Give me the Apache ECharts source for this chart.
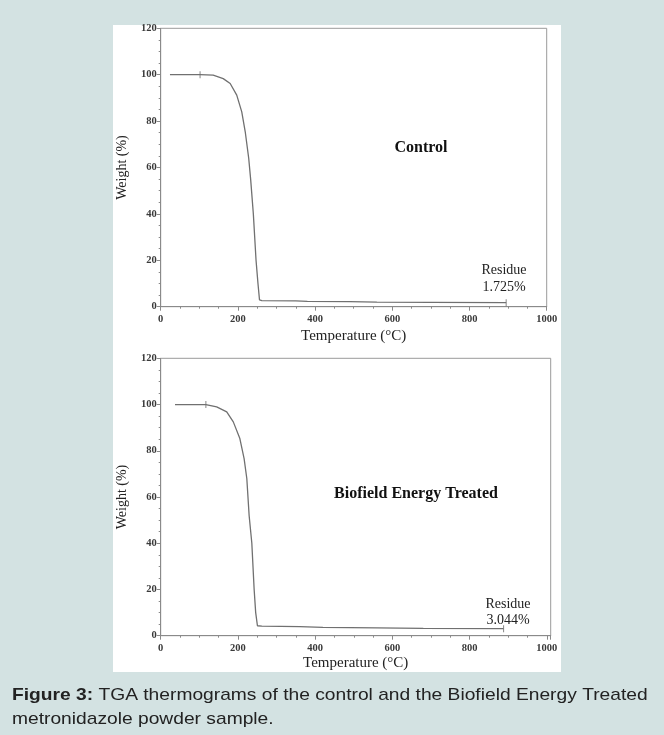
<!DOCTYPE html>
<html>
<head>
<meta charset="utf-8">
<script src="https://cdn.jsdelivr.net/npm/echarts@6/dist/echarts.min.js"></script>
<style>
html,body{margin:0;padding:0;background:#d3e2e2;}
#c{width:664px;height:735px;}
</style>
</head>
<body>
<div id="c"></div>
<script>
// Control sample
const tempControl = [24, 102, 136, 162, 180, 197, 210, 219, 228, 233, 240, 247, 252, 256, 262, 350, 380, 490, 560, 700, 895];
const weightControl = [100, 100, 99.8, 98.3, 96.2, 91.2, 84, 75.4, 64, 55, 40, 20, 10, 2.9, 2.6, 2.5, 2.3, 2.2, 2.0, 1.9, 1.725];
const markerTempControl = [102, 895];
const markerWeightControl = [100, 1.725];
// Biofield Energy Treated sample
const tempTreated = [37, 117, 145, 171, 188, 205, 216, 223, 229, 236, 242, 246, 250.5, 262, 360, 420, 560, 680, 888];
const weightTreated = [100, 100, 99, 96.8, 92.5, 85.3, 76.6, 68, 52, 40, 20, 10, 4.3, 4.1, 3.9, 3.6, 3.4, 3.2, 3.044];
const markerTempTreated = [117, 888];
const markerWeightTreated = [100, 3.044];
// Axis ticks
const xTicks = [0, 200, 400, 600, 800, 1000];
const yTicks = [0, 20, 40, 60, 80, 100, 120];

const zip = (a, b) => a.map((v, i) => [v, b[i]]);
const serif = '"Liberation Serif", "DejaVu Serif", serif';
const sans = '"Liberation Sans", Arial, sans-serif';
const axisColor = '#8a8a8a';

function xAxis(gi, max) {
  return {
    type: 'value', gridIndex: gi, min: xTicks[0], max: max, interval: xTicks[1] - xTicks[0],
    name: 'Temperature (°C)', nameLocation: 'middle', nameGap: gi === 0 ? 21.5 : 20,
    nameTextStyle: {fontFamily: serif, fontSize: 15, color: '#222'},
    axisLine: {show: true, lineStyle: {color: axisColor, width: 1}},
    axisTick: {show: true, inside: false, length: 4, lineStyle: {color: axisColor}},
    minorTick: {show: true, splitNumber: 4, length: 2, lineStyle: {color: axisColor}},
    axisLabel: {fontFamily: serif, fontSize: 10.5, fontWeight: 'bold', color: '#3a3a3a', margin: 7, showMaxLabel: gi === 0,
      formatter: v => String(v)},
    splitLine: {show: false}
  };
}
function yAxis(gi) {
  return {
    type: 'value', gridIndex: gi, min: yTicks[0], max: yTicks[yTicks.length - 1], interval: yTicks[1] - yTicks[0],
    name: 'Weight (%)', nameLocation: 'middle', nameGap: 31, nameRotate: 90,
    nameTextStyle: {fontFamily: serif, fontSize: 14, color: '#222'},
    axisLine: {show: true, lineStyle: {color: axisColor, width: 1}},
    axisTick: {show: true, inside: false, length: 4, lineStyle: {color: axisColor}},
    minorTick: {show: true, splitNumber: 4, length: 2, lineStyle: {color: axisColor}},
    axisLabel: {fontFamily: serif, fontSize: 10.5, fontWeight: 'bold', color: '#3a3a3a', margin: 4, formatter: v => String(v)},
    splitLine: {show: false}
  };
}

const chart = echarts.init(document.getElementById('c'), null, {renderer: 'canvas'});
const lineStyle = {color: '#707070', width: 1.3};
chart.setOption({
  backgroundColor: '#d3e2e2',
  animation: false,
  grid: [
    {left: 160.7, top: 28.3, width: 386, height: 278.4, show: true, borderColor: '#9a9a9a', borderWidth: 1, backgroundColor: 'transparent'},
    {left: 160.7, top: 358.3, width: 390, height: 277.4, show: true, borderColor: '#9a9a9a', borderWidth: 1, backgroundColor: 'transparent'}
  ],
  xAxis: [xAxis(0, 1000), xAxis(1, 1010)],
  yAxis: [yAxis(0), yAxis(1)],
  graphic: [
    {type: 'rect', z: -10, shape: {x: 113, y: 25, width: 448, height: 647}, style: {fill: '#ffffff'}},
    {type: 'text', x: 421, y: 148, style: {text: 'Control', font: 'bold 16px ' + serif, fill: '#111', align: 'center', verticalAlign: 'middle'}},
    {type: 'text', x: 416, y: 494, style: {text: 'Biofield Energy Treated', font: 'bold 16px ' + serif, fill: '#111', align: 'center', verticalAlign: 'middle'}},
    {type: 'text', x: 504, y: 270, style: {text: 'Residue', font: '14px ' + serif, fill: '#222', align: 'center', verticalAlign: 'middle'}},
    {type: 'text', x: 504, y: 287.5, style: {text: '1.725%', font: '14px ' + serif, fill: '#222', align: 'center', verticalAlign: 'middle'}},
    {type: 'text', x: 508, y: 604, style: {text: 'Residue', font: '14px ' + serif, fill: '#222', align: 'center', verticalAlign: 'middle'}},
    {type: 'text', x: 508, y: 620, style: {text: '3.044%', font: '14px ' + serif, fill: '#222', align: 'center', verticalAlign: 'middle'}},
    {type: 'text', x: 12, y: 683, scaleX: 1.13, style: {
      text: '{b|Figure 3:} TGA thermograms of the control and the Biofield Energy Treated\nmetronidazole powder sample.',
      font: '17px ' + sans, fill: '#222', verticalAlign: 'top', lineHeight: 24,
      rich: {b: {fontWeight: 'bold', fontSize: 17, fontFamily: sans, fill: '#222', lineHeight: 24}}
    }}
  ],
  series: [
    {type: 'line', xAxisIndex: 0, yAxisIndex: 0, data: zip(tempControl, weightControl), showSymbol: false, lineStyle: lineStyle},
    {type: 'scatter', xAxisIndex: 0, yAxisIndex: 0, data: zip(markerTempControl, markerWeightControl), symbol: 'rect', symbolSize: [1, 7], itemStyle: {color: '#6a6a6a'}},
    {type: 'line', xAxisIndex: 1, yAxisIndex: 1, data: zip(tempTreated, weightTreated), showSymbol: false, lineStyle: lineStyle},
    {type: 'scatter', xAxisIndex: 1, yAxisIndex: 1, data: zip(markerTempTreated, markerWeightTreated), symbol: 'rect', symbolSize: [1, 7], itemStyle: {color: '#6a6a6a'}}
  ]
});
</script>
</body>
</html>
